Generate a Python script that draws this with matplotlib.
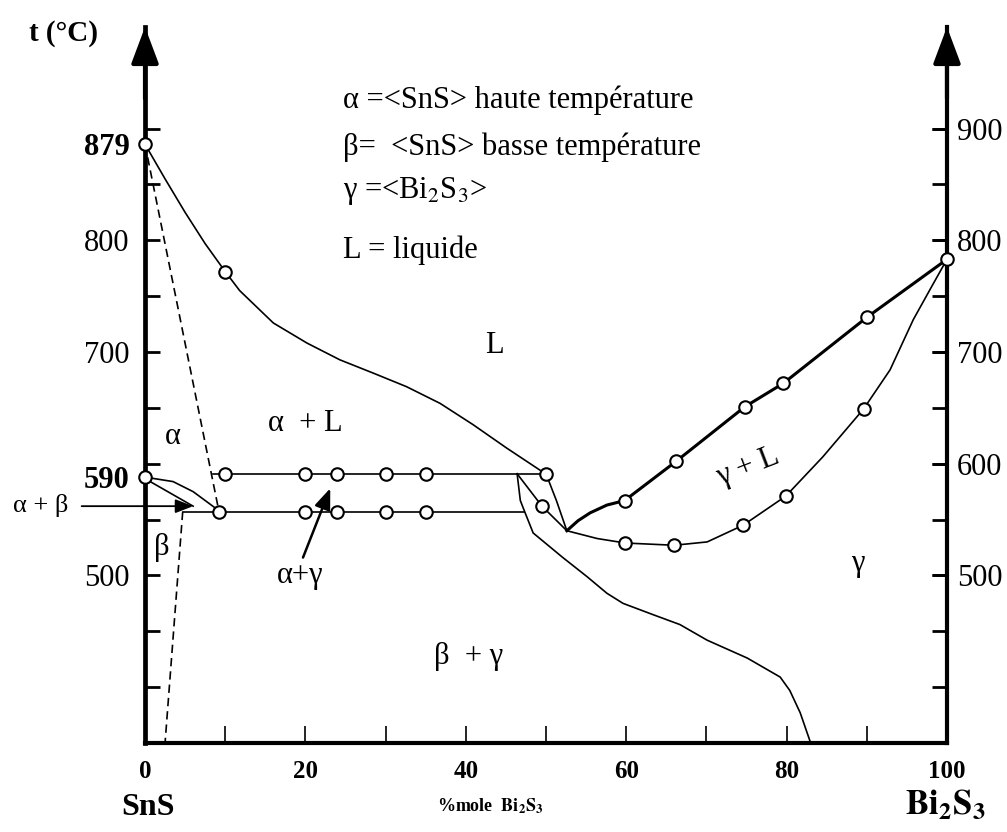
import matplotlib.pyplot as plt

plt.rcParams['font.family'] = ['Liberation Serif', 'DejaVu Serif']
plt.rcParams['mathtext.fontset'] = 'stix'

# liquidus côté SnS (879 -> 590)
liq_sns_x = [0, 2.5, 5, 7.5, 10, 11.8, 16, 20.2, 24.3, 28.5, 32.6, 36.8, 40.9, 45.1, 49.3, 50]
liq_sns_t = [886, 855, 825, 797, 772, 755, 726, 708, 693, 681, 669, 654, 635, 614, 594, 591]
liq_sns_pts_x = [0, 10, 50]
liq_sns_pts_t = [886, 772, 591]

# solidus alpha (pointillé)
sol_alpha_x = [0, 9.2]
sol_alpha_t = [886, 558]

# transition alpha/beta
solvus_ab_x = [0, 3.5, 6, 7.7, 9.2]
solvus_ab_t = [588, 584, 575, 566, 558]
solvus_b_x = [4.7, 2.5]
solvus_b_t = [557, 350]

# paliers horizontaux
pal_haut_x = [8.5, 50]
pal_haut_t = [591, 591]
pal_haut_pts_x = [10, 20, 24, 30, 35]
pal_bas_x = [4.7, 47.3]
pal_bas_t = [557, 557]
pal_bas_pts_x = [9.2, 20, 24, 30, 35]

# courbes près de l'eutectique
eut_a_x = [50, 51.3, 52.6]
eut_a_t = [591, 567, 540]
eut_b_x = [46.4, 49.5, 52.6]
eut_b_t = [591, 562, 540]
eut_b_pts = (49.5, 562)
lim_gamma_x = [46.4, 46.8, 47.4, 48.4, 52.1, 55.1, 57.6, 59.6, 63.3, 66.7, 70.1, 75.1, 79.2, 80.4, 81.7, 83.0]
lim_gamma_t = [591, 567, 556, 538, 516, 499, 484, 475, 465, 456, 442, 426, 409, 397, 377, 350]

# liquidus gamma (trait épais)
liq_g_x = [52.6, 54, 55.5, 57.6, 59.8, 66.2, 74.8, 79.6, 90, 100]
liq_g_t = [540, 549, 556, 563, 567, 602, 651, 672, 731, 783]
liq_g_pts_x = [59.8, 66.2, 74.8, 79.6, 90, 100]
liq_g_pts_t = [567, 602, 651, 672, 731, 783]

# solidus gamma
sol_g_x = [52.6, 56.4, 59.9, 66, 70.1, 74.6, 79.9, 84.5, 89.6, 92.9, 95.8, 98.2, 100]
sol_g_t = [540, 533, 529, 527, 530, 545, 571, 606, 649, 684, 729, 760, 783]
sol_g_pts_x = [59.9, 66, 74.6, 79.9, 89.6]
sol_g_pts_t = [529, 527, 545, 571, 649]

left_ticks = [886, 800, 700, 588, 500]
left_labels = ['879', '800', '700', '590', '500']
right_ticks = [500, 600, 700, 800, 900]
minor_t = [400, 450, 500, 550, 600, 650, 700, 750, 800, 850, 900]
x_major = [0, 20, 40, 60, 80, 100]
x_minor = [10, 30, 50, 70, 90]

fig = plt.figure(figsize=(10.07, 8.32), dpi=100)
ax = fig.add_axes([0.144, 0.107, 0.7964, 0.8606])
ax.set_xlim(0, 100)
ax.set_ylim(350, 991)

circ = dict(marker='o', ms=9, mfc='white', mec='black', mew=1.5, ls='none', zorder=5, clip_on=False)
thin = dict(color='black', lw=1.2, clip_on=False)
dash = dict(color='black', lw=1.2, ls=(0, (5, 3)), clip_on=False)

ax.plot(liq_sns_x, liq_sns_t, **thin)
ax.plot(liq_sns_pts_x, liq_sns_pts_t, **circ)
ax.plot(sol_alpha_x, sol_alpha_t, **dash)
ax.plot(solvus_ab_x, solvus_ab_t, **thin)
ax.plot(solvus_b_x, solvus_b_t, **dash)
ax.plot([0], [588], **circ)

ax.plot(pal_haut_x, pal_haut_t, **thin)
ax.plot(pal_haut_pts_x, [pal_haut_t[0]] * len(pal_haut_pts_x), **circ)
ax.plot(pal_bas_x, pal_bas_t, **thin)
ax.plot(pal_bas_pts_x, [pal_bas_t[0]] * len(pal_bas_pts_x), **circ)

ax.plot(eut_a_x, eut_a_t, **thin)
ax.plot(eut_b_x, eut_b_t, **thin)
ax.plot([eut_b_pts[0]], [eut_b_pts[1]], **circ)
ax.plot(lim_gamma_x, lim_gamma_t, **thin)

ax.plot(liq_g_x, liq_g_t, color='black', lw=2.2, clip_on=False)
ax.plot(liq_g_pts_x, liq_g_pts_t, **circ)
ax.plot(sol_g_x, sol_g_t, **thin)
ax.plot(sol_g_pts_x, sol_g_pts_t, **circ)

# axes
ax.spines['top'].set_visible(False)
ax.spines['left'].set_linewidth(3.4)
ax.spines['bottom'].set_linewidth(3.0)
ax.spines['right'].set_linewidth(3.0)

ax.set_yticks(left_ticks, labels=left_labels)
ax.set_yticks(minor_t, minor=True)
ax.yaxis.remove_overlapping_locs = False
ax.tick_params(axis='y', which='major', length=0, pad=11, labelsize=22)
ax.tick_params(axis='y', which='minor', direction='in', length=11, width=2)
for lbl in ax.get_yticklabels():
    if lbl.get_text() in ('879', '590'):
        lbl.set_fontweight('bold')

ax.set_xticks(x_major, labels=[str(v) for v in x_major])
ax.set_xticks(x_minor, minor=True)
ax.tick_params(axis='x', which='both', direction='in', length=12, width=1.2)
ax.tick_params(axis='x', which='major', pad=12, labelsize=18)
for lbl in ax.get_xticklabels():
    lbl.set_fontweight('bold')

ax2 = ax.twinx()
ax2.set_ylim(350, 991)
for s in ax2.spines.values():
    s.set_visible(False)
ax2.set_yticks(right_ticks)
ax2.set_yticks(minor_t, minor=True)
ax2.yaxis.remove_overlapping_locs = False
ax2.tick_params(axis='y', which='both', direction='in', length=11, width=2, pad=7, labelsize=22)

# flèches des axes verticaux
for xf in (0, 1):
    ax.annotate('', xy=(xf, 1.0), xycoords='axes fraction', xytext=(xf, 0.9),
                arrowprops=dict(arrowstyle='-|>,head_length=1.6,head_width=0.6', mutation_scale=14,
                                lw=3, color='black', shrinkA=0, shrinkB=0),
                annotation_clip=False)

# flèches des domaines
ax.annotate('', xy=(6, 562), xytext=(-7.9, 562),
            arrowprops=dict(arrowstyle='-|>,head_length=0.9,head_width=0.35', mutation_scale=12,
                            lw=1.3, color='black', shrinkA=0, shrinkB=0),
            annotation_clip=False)
ax.plot([0.4, 6], [585, 562], **thin)
ax.annotate('', xy=(23.1, 578), xytext=(19.7, 516),
            arrowprops=dict(arrowstyle='-|>,head_length=0.9,head_width=0.35', mutation_scale=14,
                            lw=1.8, color='black', shrinkA=0, shrinkB=0),
            annotation_clip=False)

# étiquettes des domaines
fs = 22
ax.text(-13, 563, 'α + β', fontsize=19, ha='center', va='center', clip_on=False)
ax.text(3.5, 624, 'α', fontsize=fs, ha='center', va='center')
ax.text(2.1, 525, 'β', fontsize=fs, ha='center', va='center')
ax.text(20, 636, 'α  + L', fontsize=fs, ha='center', va='center')
ax.text(43.6, 706, 'L', fontsize=fs, ha='center', va='center')
ax.text(19.3, 500, 'α+γ', fontsize=fs, ha='center', va='center')
ax.text(40.3, 427, 'β  + γ', fontsize=fs, ha='center', va='center')
ax.text(88.9, 511, 'γ', fontsize=fs, ha='center', va='center')
ax.text(75.2, 597, 'γ + L', fontsize=fs, ha='center', va='center', rotation=21)

# légende
ax.text(24.7, 925, 'α =<SnS> haute température', fontsize=fs, ha='left', va='center')
ax.text(24.7, 883, 'β=  <SnS> basse température', fontsize=fs, ha='left', va='center')
ax.text(24.7, 844, r'γ =<Bi$_{2}$S$_{3}$>', fontsize=fs, ha='left', va='center')
ax.text(24.7, 791, 'L = liquide', fontsize=fs, ha='left', va='center')

# titres des axes
fig.text(0.0626, 0.960, 't (°C)', fontsize=21, fontweight='bold', ha='center', va='center')
fig.text(0.147, 0.029, 'SnS', fontsize=23, fontweight='bold', ha='center', va='center')
fig.text(0.487, 0.031, r'%mole  $\mathbf{Bi_{2}S_{3}}$', fontsize=13, fontweight='bold', ha='center', va='center')
fig.text(0.939, 0.032, r'$\mathbf{Bi_{2}S_{3}}$', fontsize=25, ha='center', va='center')

fig.savefig('out.png', dpi=100)
